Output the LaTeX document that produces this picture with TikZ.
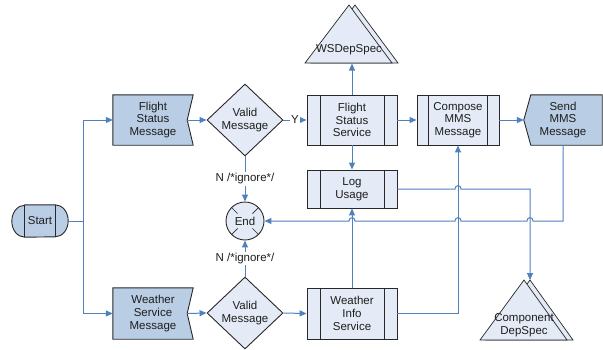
\documentclass[tikz,border=0pt]{standalone}
\usepackage{fontspec}
\setmainfont{Liberation Sans}
\usetikzlibrary{arrows.meta,shapes.geometric,calc,backgrounds}
\definecolor{dfill}{RGB}{185,205,229}
\definecolor{lfill}{RGB}{228,235,246}
\definecolor{lblue}{RGB}{79,129,189}
\definecolor{bord}{RGB}{40,40,40}
\definecolor{tcol}{RGB}{30,30,30}
\begin{document}
\begin{tikzpicture}[x=1pt,y=-1pt,
  txt/.style={font=\fontsize{11.5}{12.7}\selectfont, text=tcol, align=center, inner sep=0pt},
  outl/.style={draw=bord, line width=0.9pt},
  svc/.style={txt, outl, fill=lfill, minimum width=90pt, minimum height=50pt},
  dec/.style={txt, outl, fill=lfill, shape=diamond, minimum width=76pt, minimum height=72pt},
  conn/.style={draw=lblue, line width=1pt},
  arr/.style={conn, -{Triangle[length=7pt,width=6pt]}},
  lbl/.style={txt, fill=white, inner sep=1.5pt}]
\useasboundingbox (0,0) rectangle (603,349);

% ---------- nodes ----------
\node[txt, minimum width=56pt, minimum height=32pt] (start) at (40,221) {Start};
\node[txt, minimum width=80pt, minimum height=50pt] (fsm) at (153,120) {Flight\\Status\\Message};
\node[txt, minimum width=80pt, minimum height=51pt] (wsm) at (153,313.5) {Weather\\Service\\Message};
\node[dec] (v1) at (245,120) {Valid\\Message};
\node[dec] (v2) at (245,313) {Valid\\Message};
\node[txt, outl, fill=lfill, circle, minimum size=38pt] (endn) at (245,221) {End};
\node[svc] (fss) at (352,120) {Flight\\Status\\Service};
\node[svc, minimum height=38pt] (log) at (352,189) {Log\\Usage};
\node[svc, minimum height=51pt] (wis) at (352,313.5) {Weather\\Info\\Service};
\node[svc, minimum width=82pt] (comp) at (458,120) {Compose\\MMS\\Message};
\node[txt, minimum width=78pt, minimum height=50pt] (send) at (563,120) {Send\\MMS\\Message};

% ---------- custom shapes behind text ----------
\begin{scope}[on background layer]
  \draw[outl, fill=dfill] ([xshift=13pt]start.north west) -- ([xshift=-13pt]start.north east)
     arc[start angle=-90, end angle=90, x radius=13, y radius=16]
     -- ([xshift=13pt]start.south west)
     arc[start angle=90, end angle=270, x radius=13, y radius=16] -- cycle;
  \draw[outl] ([xshift=13pt]start.north west) -- ([xshift=13pt]start.south west);
  \draw[outl] ([xshift=-13pt]start.north east) -- ([xshift=-13pt]start.south east);
  \foreach \n in {fsm,wsm}
    \draw[outl, fill=dfill] (\n.north west) -- (\n.north east) -- ([xshift=-6pt]\n.east)
      -- (\n.south east) -- (\n.south west) -- cycle;
  \draw[outl, fill=dfill] ([xshift=7pt]send.north west) -- (send.north east) -- (send.south east)
      -- ([xshift=7pt]send.south west) -- (send.west) -- cycle;
\end{scope}

% inner bars of the service boxes
\foreach \n/\d in {fss/13.5,log/13.5,wis/13.5,comp/12}{
  \draw[outl] ([xshift=\d pt]\n.north west) -- ([xshift=\d pt]\n.south west);
  \draw[outl] ([xshift=-\d pt]\n.north east) -- ([xshift=-\d pt]\n.south east);
}
% End cross
\foreach \a in {45,135,225,315}
  \draw[bord, line width=0.7pt] ($(endn)+(\a:10.5)$) -- ($(endn)+(\a:19)$);

% ---------- triangles ----------
\draw[draw=bord, line width=0.7pt, fill=lfill] (355,5) -- (398,63) -- (311,63) -- cycle;
\draw[draw=bord, line width=0.7pt, fill=lfill] (349,5) -- (392,63) -- (305,63) -- cycle;
\node[txt] (ws) at (349,50) {WSDepSpec};
\coordinate (wsb) at (352,63.5);

\draw[draw=bord, line width=0.7pt, fill=lfill] (530,280) -- (573,340) -- (486,340) -- cycle;
\draw[draw=bord, line width=0.7pt, fill=lfill] (524,280) -- (567,340) -- (480,340) -- cycle;
\node[txt] (cds) at (524,325.5) {Component\\DepSpec};
\coordinate (cdsa) at (530,280);

% ---------- connectors ----------
\coordinate (split) at (83,221);
\draw[conn] (start.east) -- (split);
\draw[arr] (split) |- (fsm.west);
\draw[arr] (split) |- (wsm.west);
\draw[arr] ([xshift=-6pt]fsm.east) -- (v1.west);
\draw[arr] ([xshift=-6pt]wsm.east) -- (v2.west);
\draw[arr] (v1.east) -- node[lbl]{Y} (fss.west);
\draw[arr] (v1.south) -- node[lbl]{N /*ignore*/} (endn.north);
\draw[arr] (v2.north) -- node[lbl]{N /*ignore*/} (endn.south);
\draw[arr] (v2.east) -- (wis.west);
\draw[arr] (fss.north) -- (wsb);
\draw[arr] (fss.east) -- (comp.west);
\draw[arr] (fss.south) -- (log.north);
\draw[arr] (comp.east) -- (send.west);
\draw[arr] (wis.north) -- (log.south);
\draw[arr] (wis.east) -| (comp.south);

\coordinate (h1) at (log.east -| comp.south);
\coordinate (h2) at (endn.east -| cdsa);
\coordinate (h3) at (endn.east -| comp.south);
\coordinate (h4) at (endn.east -| log.south);
\coordinate (sc) at (send.south |- endn.east);

\draw[arr] (log.east) -- ($(h1)+(-3,0)$) .. controls ($(h1)+(-3,-4.5)$) and ($(h1)+(3,-4.5)$) .. ($(h1)+(3,0)$) -| (cdsa);

\draw[arr] (send.south) -- (sc)
  -- ($(h2)+(3,0)$) .. controls ($(h2)+(3,-4.5)$) and ($(h2)+(-3,-4.5)$) .. ($(h2)+(-3,0)$)
  -- ($(h3)+(3,0)$) .. controls ($(h3)+(3,-4.5)$) and ($(h3)+(-3,-4.5)$) .. ($(h3)+(-3,0)$)
  -- ($(h4)+(3,0)$) .. controls ($(h4)+(3,-4.5)$) and ($(h4)+(-3,-4.5)$) .. ($(h4)+(-3,0)$)
  -- (endn.east);
\end{tikzpicture}
\end{document}
